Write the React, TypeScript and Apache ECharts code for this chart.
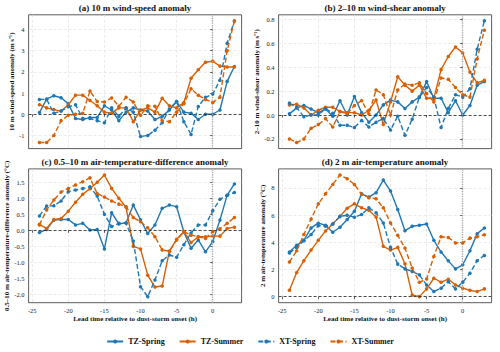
import React, { useEffect, useRef } from "react";
import * as echarts from "echarts";

// Lead time (h) relative to dust-storm onset
const hours = [-24, -23, -22, -21, -20, -19, -18, -17, -16, -15, -14, -13, -12, -11, -10, -9, -8, -7, -6, -5, -4, -3, -2, -1, 0, 1, 2, 3];

const seriesNames = ["TZ-Spring", "TZ-Summer", "XT-Spring", "XT-Summer"];

// (a) 10 m wind-speed anomaly (m s-1)
const windSpeedTZSpring = [0.08, 0.72, 0.87, 0.78, 0.5, -0.2, -0.25, -0.15, -0.15, 0.4, 0.2, -0.3, 0.1, 0.3, 0.2, 0.15, -0.25, -0.1, 0.2, 0.6, 0.1, 0.05, -0.25, 0.0, 0.0, 0.2, 1.55, 2.25];
const windSpeedTZSummer = [0.45, 0.3, 0.22, 0.15, 0.45, 0.9, 0.9, 0.65, 0.4, 0.1, 0.05, 0.3, 0.3, -0.35, 0.2, 0.3, 0.1, 0.75, 0.4, 0.3, 0.55, 1.7, 2.1, 2.45, 2.5, 2.27, 2.23, 2.23];
const windSpeedXTSpring = [0.7, 0.7, 0.05, 0.15, 0.35, 0.45, -0.2, -0.2, -0.3, -0.4, 0.3, -0.1, 0.3, 0.1, -1.05, -1.0, -0.75, -0.4, 0.25, 0.6, -0.35, -0.95, 0.37, 0.8, 0.95, 1.6, 3.35, 4.4];
const windSpeedXTSummer = [-1.33, -1.33, -1.0, -0.3, -0.05, 0.0, 0.05, 1.1, 0.6, 0.58, 0.77, 0.38, 0.8, 0.58, -0.05, 0.4, 0.38, -0.3, -0.35, 0.1, 0.5, 1.2, 0.9, 0.7, 0.55, 0.8, 3.0, 4.4];

// (b) 2–10 m wind-shear anomaly (m s-1)
const shearTZSpring = [0.01, 0.06, 0.08, 0.05, 0.02, 0.05, -0.01, 0.12, 0.0, 0.155, 0.02, -0.06, 0.0, 0.085, 0.125, 0.11, 0.055, 0.11, 0.15, 0.28, 0.14, 0.14, 0.02, 0.12, 0.0, 0.08, 0.25, 0.28];
const shearTZSummer = [0.085, 0.09, 0.06, 0.0, 0.04, 0.065, 0.065, 0.03, 0.02, 0.02, 0.0, 0.04, 0.125, -0.08, 0.11, 0.32, 0.25, 0.2, 0.25, 0.14, 0.14, 0.38, 0.49, 0.57, 0.52, 0.36, 0.27, 0.29];
const shearXTSpring = [0.1, 0.065, -0.015, 0.0, 0.0, 0.055, 0.015, -0.085, -0.085, -0.105, -0.045, -0.1, -0.06, -0.03, -0.125, -0.01, -0.17, -0.035, 0.15, 0.23, 0.15, -0.105, 0.055, 0.17, 0.15, 0.22, 0.55, 0.79];
const shearXTSummer = [-0.2, -0.23, -0.2, -0.11, -0.08, -0.03, -0.1, 0.03, 0.01, 0.08, 0.12, 0.01, 0.21, 0.17, 0.0, 0.21, 0.26, 0.25, 0.27, 0.18, 0.11, 0.31, 0.3, 0.23, 0.17, 0.15, 0.47, 0.71];

// (c) 0.5–10 m air-temperature-difference anomaly (°C)
const tempDiffTZSpring = [-0.07, 0.03, 0.32, 0.34, 0.34, 0.17, 0.22, 0.01, 0.03, -0.58, 0.55, 0.2, 0.24, 0.79, 0.33, -0.1, 0.17, 0.69, 0.79, 0.74, -0.05, -0.56, -0.3, -0.67, -0.35, 0.32, 1.1, 1.45];
const tempDiffTZSummer = [0.19, 0.06, 0.34, 0.37, 0.6, 0.88, 1.13, 1.3, 1.5, 1.73, 1.31, 1.0, 0.72, -0.5, -0.58, -1.4, -1.77, -1.74, -0.65, -0.28, -0.04, -0.38, -0.2, -0.2, -0.18, -0.18, 0.06, 0.1];
const tempDiffXTSpring = [0.45, 0.76, 0.77, 0.92, 1.21, 1.26, 1.31, 1.36, 1.07, 0.5, 0.12, 0.22, 0.22, -0.33, -1.76, -2.07, -1.55, -0.95, -0.77, -0.84, -0.45, -0.08, 0.17, 0.17, 0.61, 0.97, 1.1, 1.18];
const tempDiffXTSummer = [0.17, 0.64, 0.95, 1.2, 1.31, 1.42, 1.52, 1.64, 1.15, 1.04, 0.92, 0.82, 0.74, 0.4, 0.27, 0.08, -0.2, -0.61, -0.65, -0.3, -0.04, -0.15, -0.2, -0.25, -0.04, 0.05, 0.22, 0.4];

// (d) 2 m air-temperature anomaly (°C)
const airTempTZSpring = [3.28, 3.77, 4.14, 5.05, 5.4, 5.25, 4.73, 5.1, 5.67, 6.28, 7.56, 7.32, 7.64, 8.57, 7.76, 6.4, 4.85, 5.17, 5.25, 5.34, 4.14, 3.28, 2.63, 2.04, 2.34, 3.37, 4.63, 5.05];
const airTempTZSummer = [0.47, 1.77, 2.64, 3.42, 4.14, 4.83, 5.34, 5.9, 6.5, 6.82, 6.53, 6.35, 5.86, 3.7, 3.42, 3.62, 2.41, 0.12, 0.0, 0.57, 1.35, 1.06, 1.28, 0.86, 0.62, 0.47, 0.37, 0.57];
const airTempXTSpring = [3.2, 3.62, 4.11, 4.56, 5.22, 5.17, 5.34, 5.9, 5.98, 5.84, 6.03, 6.53, 6.16, 5.42, 3.62, 2.39, 2.04, 1.85, 1.6, 0.86, 0.37, 0.62, 1.1, 0.57, 1.06, 1.72, 2.64, 3.03];
const airTempXTSummer = [2.54, 3.37, 4.56, 5.71, 6.82, 7.56, 8.25, 8.94, 8.67, 8.25, 7.51, 7.27, 7.2, 6.53, 5.42, 4.51, 3.57, 2.1, 1.05, 1.3, 2.95, 4.4, 4.35, 3.95, 3.95, 4.3, 4.4, 4.55];

// Tick labels
const xTicks = [-25, -20, -15, -10, -5, 0];
const yTicksA = [-1, 0, 1, 2, 3, 4];
const yTicksB = [-0.2, 0.0, 0.2, 0.4, 0.6, 0.8];
const yTicksC = [-2.0, -1.5, -1.0, -0.5, 0.0, 0.5, 1.0, 1.5];
const yTicksD = [0, 2, 4, 6, 8];

const panelTitles = [
  "(a) 10 m wind-speed anomaly",
  "(b) 2–10 m wind-shear anomaly",
  "(c) 0.5–10 m air-temperature-difference anomaly",
  "(d) 2 m air-temperature anomaly",
];
const yAxisNames = [
  "10 m wind-speed anomaly (m s⁻¹)",
  "2–10 m wind-shear anomaly (m s⁻¹)",
  "0.5–10 m air-temperature-difference anomaly (°C)",
  "2 m air-temperature anomaly (°C)",
];
const xAxisName = "Lead time relative to dust-storm onset (h)";

const FONT = "'Liberation Serif', 'Times New Roman', serif";
const BLUE = "#1f77b4";
const ORANGE = "#d95f02";
const styles = [
  { color: BLUE, dashed: false },
  { color: ORANGE, dashed: false },
  { color: BLUE, dashed: true },
  { color: ORANGE, dashed: true },
];

const panelSeries = [
  [windSpeedTZSpring, windSpeedTZSummer, windSpeedXTSpring, windSpeedXTSummer],
  [shearTZSpring, shearTZSummer, shearXTSpring, shearXTSummer],
  [tempDiffTZSpring, tempDiffTZSummer, tempDiffXTSpring, tempDiffXTSummer],
  [airTempTZSpring, airTempTZSummer, airTempXTSpring, airTempXTSummer],
];

const panelLayout = [
  { left: 28.6, top: 14.8, min: -1.62, max: 4.69, ticks: yTicksA, decimals: 0, nameGap: 12 },
  { left: 278.6, top: 14.8, min: -0.281, max: 0.839, ticks: yTicksB, decimals: 1, nameGap: 16 },
  { left: 28.6, top: 168.9, min: -2.26, max: 1.92, ticks: yTicksC, decimals: 1, nameGap: 14 },
  { left: 278.6, top: 168.9, min: -0.447, max: 9.39, ticks: yTicksD, decimals: 0, nameGap: 12 },
];
const GRID_W = 213;
const GRID_H = 133.8;

const fmt = (v: number, d: number) => (Math.abs(v) < 1e-9 ? (0).toFixed(d) : v.toFixed(d));

function buildOption() {
  const grid: any[] = [];
  const xAxis: any[] = [];
  const yAxis: any[] = [];
  const title: any[] = [];
  const series: any[] = [];

  panelLayout.forEach((p, i) => {
    grid.push({
      left: p.left,
      top: p.top,
      width: GRID_W,
      height: GRID_H,
      show: true,
      borderColor: "#4a4a4a",
      borderWidth: 0.9,
      backgroundColor: "transparent",
      outerBoundsMode: "none",
    });
    const bottomRow = i >= 2;
    xAxis.push({
      type: "value",
      gridIndex: i,
      min: -25.5,
      max: 4,
      axisLine: { show: false },
      axisTick: { show: true, length: 2.5, customValues: xTicks, lineStyle: { color: "#333", width: 0.8 } },
      axisLabel: {
        show: bottomRow,
        customValues: xTicks,
        fontSize: 6.5,
        fontFamily: FONT,
        color: "#222",
        margin: 4.5,
        formatter: (v: number) => fmt(v, 0),
      },
      splitLine: { show: true, lineStyle: { color: "#dddddd", width: 0.6, type: [3, 2] } },
      name: bottomRow ? xAxisName : "",
      nameLocation: "middle",
      nameGap: 12.5,
      nameTextStyle: { fontFamily: FONT, fontSize: 7, fontWeight: "bold", color: "#111" },
    });
    yAxis.push({
      type: "value",
      gridIndex: i,
      min: p.min,
      max: p.max,
      axisLine: { show: false },
      axisTick: { show: true, length: 2.5, customValues: p.ticks, lineStyle: { color: "#333", width: 0.8 } },
      axisLabel: {
        customValues: p.ticks,
        fontSize: 6.5,
        fontFamily: FONT,
        color: "#222",
        margin: 4,
        formatter: (v: number) => fmt(v, p.decimals),
      },
      splitLine: { show: true, lineStyle: { color: "#dddddd", width: 0.6, type: [3, 2] } },
      name: yAxisNames[i],
      nameLocation: "middle",
      nameGap: p.nameGap,
      nameTextStyle: { fontFamily: FONT, fontSize: 7, fontWeight: "bold", color: "#111" },
    });
    title.push({
      text: panelTitles[i],
      left: p.left + GRID_W / 2,
      top: p.top - 11.5,
      textAlign: "center",
      padding: 0,
      textStyle: { fontFamily: FONT, fontSize: 9, fontWeight: "bold", color: "#111" },
    });

    panelSeries[i].forEach((values, k) => {
      const st = styles[k];
      const s: any = {
        type: "line",
        name: seriesNames[k],
        xAxisIndex: i,
        yAxisIndex: i,
        data: hours.map((h, j) => [h, values[j]]),
        symbol: "circle",
        symbolSize: 3.5,
        showSymbol: true,
        z: 3 + k,
        lineStyle: { color: st.color, width: 1.4, type: st.dashed ? [5, 2.5] : "solid" },
        itemStyle: { color: st.color },
        emphasis: { disabled: true },
      };
      if (k === 0) {
        // zero reference line and storm-onset marker
        s.markLine = {
          silent: true,
          symbol: ["none", "none"],
          label: { show: false },
          animation: false,
          data: [
            { yAxis: 0, lineStyle: { color: "#222", width: 0.8, type: [3, 2] } },
            { xAxis: 0, lineStyle: { color: "#a8a8a8", width: 1.4, type: [1.2, 1.2] } },
          ],
        };
      }
      series.push(s);
    });
  });

  return {
    animation: false,
    backgroundColor: "#ffffff",
    title,
    grid,
    xAxis,
    yAxis,
    legend: {
      data: seriesNames,
      left: "center",
      top: 337.5,
      padding: 0,
      itemWidth: 16,
      itemHeight: 5,
      itemGap: 14,
      textStyle: { fontFamily: FONT, fontSize: 8, fontWeight: "bold", color: "#111" },
    },
    series,
  };
}

export default function App() {
  const ref = useRef<HTMLDivElement>(null);
  useEffect(() => {
    if (!ref.current) return;
    const chart = echarts.init(ref.current, undefined, { renderer: "svg" });
    chart.setOption(buildOption() as any);
    return () => chart.dispose();
  }, []);
  return <div ref={ref} style={{ width: 500, height: 352, position: "absolute", left: 0, top: 0 }} />;
}
